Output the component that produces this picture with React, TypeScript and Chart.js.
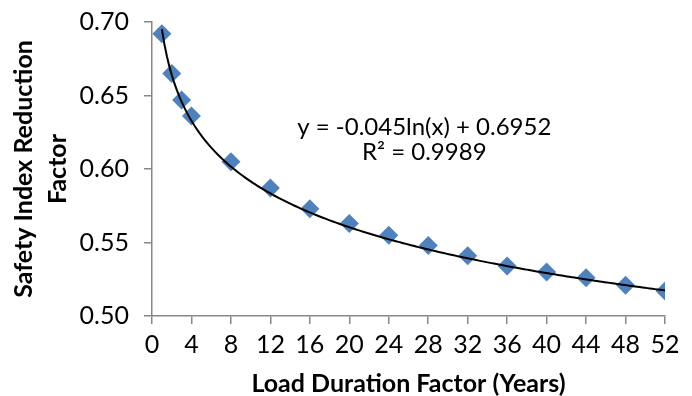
import React, { useEffect, useRef } from "react";
import { Chart, registerables } from "chart.js";

Chart.register(...registerables);

// Data
const years: number[] = [1, 2, 3, 4, 8, 12, 16, 20, 24, 28, 32, 36, 40, 44, 48, 52];
const factors: number[] = [0.692, 0.665, 0.647, 0.636, 0.605, 0.587, 0.573, 0.563, 0.555, 0.548, 0.541, 0.534, 0.53, 0.526, 0.521, 0.517];

// Logarithmic trendline as printed on the chart: y = a*ln(x) + b
const trendA = -0.045;
const trendB = 0.6952;
const trendLabel: string[] = ["y = -0.045ln(x) + 0.6952", "R\u00b2 = 0.9989"];
const trendLabelAt = { x: 27.6, y: 0.6286 };

const xTitle = "Load Duration Factor (Years)";
const yTitle: string[] = ["Safety Index Reduction", "Factor"];

const FONT = "Lato, 'Open Sans', sans-serif";
const AXIS_GRAY = "#878787";
const MARKER_BLUE = "#4F81BD";

export default function App() {
  const canvasRef = useRef<HTMLCanvasElement | null>(null);

  useEffect(() => {
    document.body.style.margin = "0";
    const canvas = canvasRef.current;
    if (!canvas) return;

    const xMin = years[0];
    const xMax = years[years.length - 1];
    const trendPts: { x: number; y: number }[] = [];
    const steps = 200;
    for (let i = 0; i <= steps; i++) {
      const x = xMin + ((xMax - xMin) * i) / steps;
      trendPts.push({ x, y: trendA * Math.log(x) + trendB });
    }

    const labelPlugin = {
      id: "trendLabel",
      afterDatasetsDraw(chart: any) {
        const { ctx, scales } = chart;
        const cx = scales.x.getPixelForValue(trendLabelAt.x);
        const cy = scales.y.getPixelForValue(trendLabelAt.y);
        ctx.save();
        ctx.fillStyle = "#000";
        ctx.font = `24px ${FONT}`;
        ctx.textAlign = "center";
        ctx.textBaseline = "middle";
        trendLabel.forEach((t, i) => ctx.fillText(t, cx, cy + i * 25));
        ctx.restore();
      },
    };

    const chart = new Chart(canvas, {
      type: "scatter",
      data: {
        datasets: [
          {
            type: "line",
            data: trendPts,
            borderColor: "#000",
            borderWidth: 2,
            pointRadius: 0,
            fill: false,
            order: 0,
          } as any,
          {
            data: years.map((x, i) => ({ x, y: factors[i] })),
            pointStyle: "rectRot",
            pointRadius: 9.5,
            backgroundColor: MARKER_BLUE,
            borderColor: MARKER_BLUE,
            borderWidth: 0,
            order: 1,
          },
        ],
      },
      options: {
        responsive: false,
        animation: false,
        devicePixelRatio: 1,
        layout: { padding: { left: 0, top: 22, right: 27, bottom: 0 } },
        plugins: { legend: { display: false }, tooltip: { enabled: false } },
        scales: {
          x: {
            type: "linear",
            min: 0,
            max: 52,
            ticks: { stepSize: 4, color: "#000", font: { family: FONT, size: 25 }, padding: 6, maxRotation: 0 },
            grid: { drawOnChartArea: false, drawTicks: true, tickLength: 8, color: AXIS_GRAY, lineWidth: 1.5 },
            border: { display: true, color: AXIS_GRAY, width: 1.5 },
            title: {
              display: true,
              text: xTitle,
              color: "#000",
              font: { family: FONT, size: 25, weight: "bold", lineHeight: 1 },
              padding: { top: 0, bottom: 0 },
            },
            afterFit: (s: any) => {
              s.height = 80;
              s.paddingLeft = 0;
              s.paddingRight = 0;
            },
          },
          y: {
            type: "linear",
            min: 0.5,
            max: 0.7,
            ticks: {
              stepSize: 0.05,
              color: "#000",
              font: { family: FONT, size: 25 },
              padding: 15,
              callback: (v: any) => Number(v).toFixed(2),
            },
            grid: { drawOnChartArea: false, drawTicks: true, tickLength: 8, color: AXIS_GRAY, lineWidth: 1.5 },
            border: { display: true, color: AXIS_GRAY, width: 1.5 },
            title: {
              display: true,
              text: yTitle,
              color: "#000",
              font: { family: FONT, size: 25, weight: "bold", lineHeight: 1.36 },
              padding: { top: 7, bottom: 0 },
            },
            afterFit: (s: any) => {
              s.width = 152;
              s.paddingTop = 0;
              s.paddingBottom = 0;
            },
          },
        },
      },
      plugins: [labelPlugin],
    });

    return () => chart.destroy();
  }, []);

  return (
    <div style={{ width: 692, height: 396, background: "#fff" }}>
      <canvas ref={canvasRef} width={692} height={396} style={{ display: "block" }} />
    </div>
  );
}
